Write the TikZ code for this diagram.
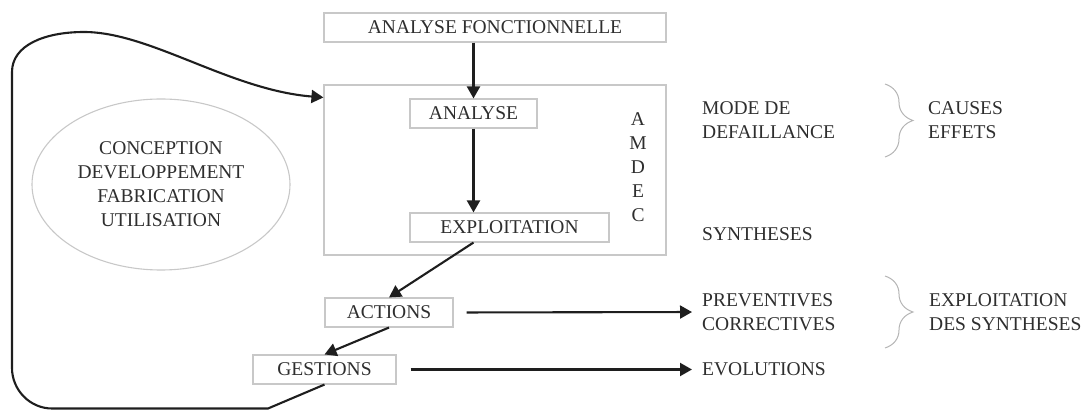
\documentclass[tikz,border=0pt]{standalone}
\usepackage{fontspec}
\setmainfont{Liberation Serif}
\usetikzlibrary{arrows.meta,shapes.geometric,decorations.pathreplacing,calc}
\definecolor{txt}{HTML}{2E2E2E}
\definecolor{frame}{HTML}{C8C8C8}
\definecolor{ink}{HTML}{1E1E1E}
\definecolor{bracecol}{HTML}{B4B4B4}
\begin{document}
\begin{tikzpicture}[x=1pt,y=-1pt,
  every node/.style={font=\fontsize{19.5}{24}\selectfont, text=txt},
  box/.style={draw=frame, line width=1.1pt, inner sep=0pt, minimum height=29pt},
  label/.style={anchor=west, inner sep=0pt, align=left},
  flow/.style={draw=ink, line width=2.1pt, -{Triangle[length=12pt,width=13pt]}},
  curly/.style={draw=bracecol, line width=1pt, decorate,
                decoration={brace, amplitude=28pt}}]
\useasboundingbox (0,0) rectangle (1089,411);

% main chain of boxes
\node[box, minimum width=342pt] (af) at (495,27.5) {ANALYSE FONCTIONNELLE};
\node[box, minimum width=342pt, minimum height=170pt] (amdec) at (495,170) {};
\node[box, minimum width=127pt] (analyse) at (473.5,113.5) {ANALYSE};
\node[box, minimum width=199pt] (expl) at (509.5,227.5) {EXPLOITATION};
\node[align=center, inner sep=0pt] (letters) at (638,167) {A\\M\\D\\E\\C};
\node[box, minimum width=128pt] (actions) at (389,312.5) {ACTIONS};
\node[box, minimum width=143pt] (gestions) at (324.5,369.5) {GESTIONS};

% life cycle ellipse
\node[ellipse, draw=frame, line width=1.1pt, minimum width=258pt,
      minimum height=171pt, align=center, inner sep=0pt] (cycle) at (161,184.5)
      {CONCEPTION\\DEVELOPPEMENT\\FABRICATION\\UTILISATION};

% right-hand labels
\node[label] (mode) at (702,120) {MODE DE\\DEFAILLANCE};
\node[label] (causes) at (928,120) {CAUSES\\EFFETS};
\node[label] (synth) at (702,234) {SYNTHESES};
\node[label] (prev) at (702,312) {PREVENTIVES\\CORRECTIVES};
\node[label] (expsyn) at (929,312) {EXPLOITATION\\DES SYNTHESES};
\node[label] (evol) at (702,369) {EVOLUTIONS};

% braces
\draw[curly] (885,84) -- (885,157);
\draw[curly] (885,276) -- (885,348);

% arrows
\draw[flow] (af.south -| analyse.north) -- (analyse.north);
\draw[flow] (analyse) -- (expl.north -| analyse.south);
\draw[flow] (expl.south -| analyse.south) -- (actions.north);
\draw[flow] (actions.south) -- (gestions.north);
\draw[flow, shorten <=13pt, shorten >=10pt] (actions.east) -- (prev.west);
\draw[flow, shorten <=14pt, shorten >=10pt] (gestions.east) -- (gestions.east -| evol.west);

% feedback loop
\coordinate (entry) at ($(amdec.north west)+(0,13)$);
\coordinate (low) at (268,408.5);
\draw[flow] (gestions.south) -- (low) -- (52,408.5)
  .. controls (30,408.5) and (12,390) .. (12,368) -- (12,72)
  .. controls (12,45) and (45,32) .. (84,32)
  .. controls (150,32) and (230,90) .. (entry);
\end{tikzpicture}
\end{document}
